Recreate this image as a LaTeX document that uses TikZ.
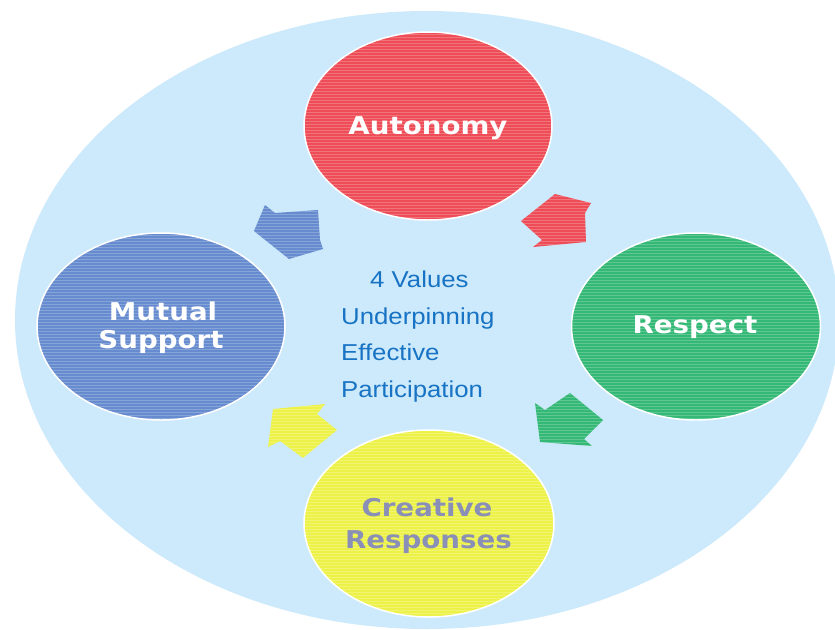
\documentclass[tikz,border=0pt]{standalone}
\usepackage{fontspec}
\setmainfont{Liberation Sans}
\newfontfamily\lblfont{DejaVu Sans}[FakeStretch=1.13]
\newfontfamily\ctrfont{Liberation Sans}[FakeStretch=1.12]
\usetikzlibrary{shapes.geometric,patterns}
\definecolor{bgblue}{RGB}{204,234,251}
\definecolor{cred}{RGB}{238,76,86}
\definecolor{cgreen}{RGB}{52,184,118}
\definecolor{cblue}{RGB}{102,139,207}
\definecolor{cyellow}{RGB}{237,242,72}
\definecolor{ctext}{RGB}{24,115,196}
\definecolor{cgrey}{RGB}{138,143,184}
\begin{document}
\begin{tikzpicture}[x=1pt,y=-1pt,
  bubble/.style={ellipse,inner sep=0pt,draw=white,line width=1.5pt,
    postaction={pattern=horizontal lines,pattern color=white,opacity=0.22}},
  blockarrow/.style={postaction={pattern=horizontal lines,pattern color=white,opacity=0.22}},
  lbl/.style={anchor=base,inner sep=0pt,font=\lblfont\bfseries\fontsize{24.5}{28}\selectfont,text=white},
  ctr/.style={anchor=base west,inner sep=0pt,font=\ctrfont\fontsize{23}{27}\selectfont,text=ctext}]
\useasboundingbox (0,0) rectangle (835,629);
\fill[white] (0,0) rectangle (835,629);
% background ellipse
\fill[bgblue] (427,320) ellipse [x radius=412pt, y radius=309pt];
% value bubbles
\node[bubble,fill=cred,minimum width=248pt,minimum height=188pt] (aut) at (428,126) {};
\node[bubble,fill=cgreen,minimum width=249pt,minimum height=187pt] (res) at (696,326.5) {};
\node[bubble,fill=cyellow,minimum width=250pt,minimum height=187pt] (cre) at (429,523.5) {};
\node[bubble,fill=cblue,minimum width=248pt,minimum height=187pt] (mut) at (161,326.5) {};
% labels
\node[lbl] (autl) at (428,134) {Autonomy};
\node[lbl] (resl) at (695,333) {Respect};
\node[lbl,text=cgrey] (crel1) at (427,516) {Creative};
\node[lbl,text=cgrey] (crel2) at (428.5,548) {Responses};
\node[lbl] (mutl1) at (163,320) {Mutual};
\node[lbl] (mutl2) at (161,348) {Support};
% cycle arrows
\fill[cred,blockarrow] (555,194) -- (591,203) -- (585,213) -- (586,242) -- (533,247) -- (542,240) -- (521,221) -- cycle;
\fill[cgreen,blockarrow] (535,403) -- (545,410) -- (570,393) -- (603,420) -- (584,439) -- (592,446) -- (540,442) -- cycle;
\fill[cyellow,blockarrow] (273,409) -- (325,404) -- (317,414) -- (337,430) -- (303,458) -- (280,441) -- (268,447) -- cycle;
\fill[cblue,blockarrow] (254,231) -- (265,205) -- (275,213) -- (318,210) -- (320,240) -- (323,249) -- (289,259) -- cycle;
% centre text
\node[ctr] (t1) at (370,287) {4 Values};
\node[ctr] (t2) at (341,324) {Underpinning};
\node[ctr] (t3) at (341,360.5) {Effective};
\node[ctr] (t4) at (341,397) {Participation};
\end{tikzpicture}
\end{document}
